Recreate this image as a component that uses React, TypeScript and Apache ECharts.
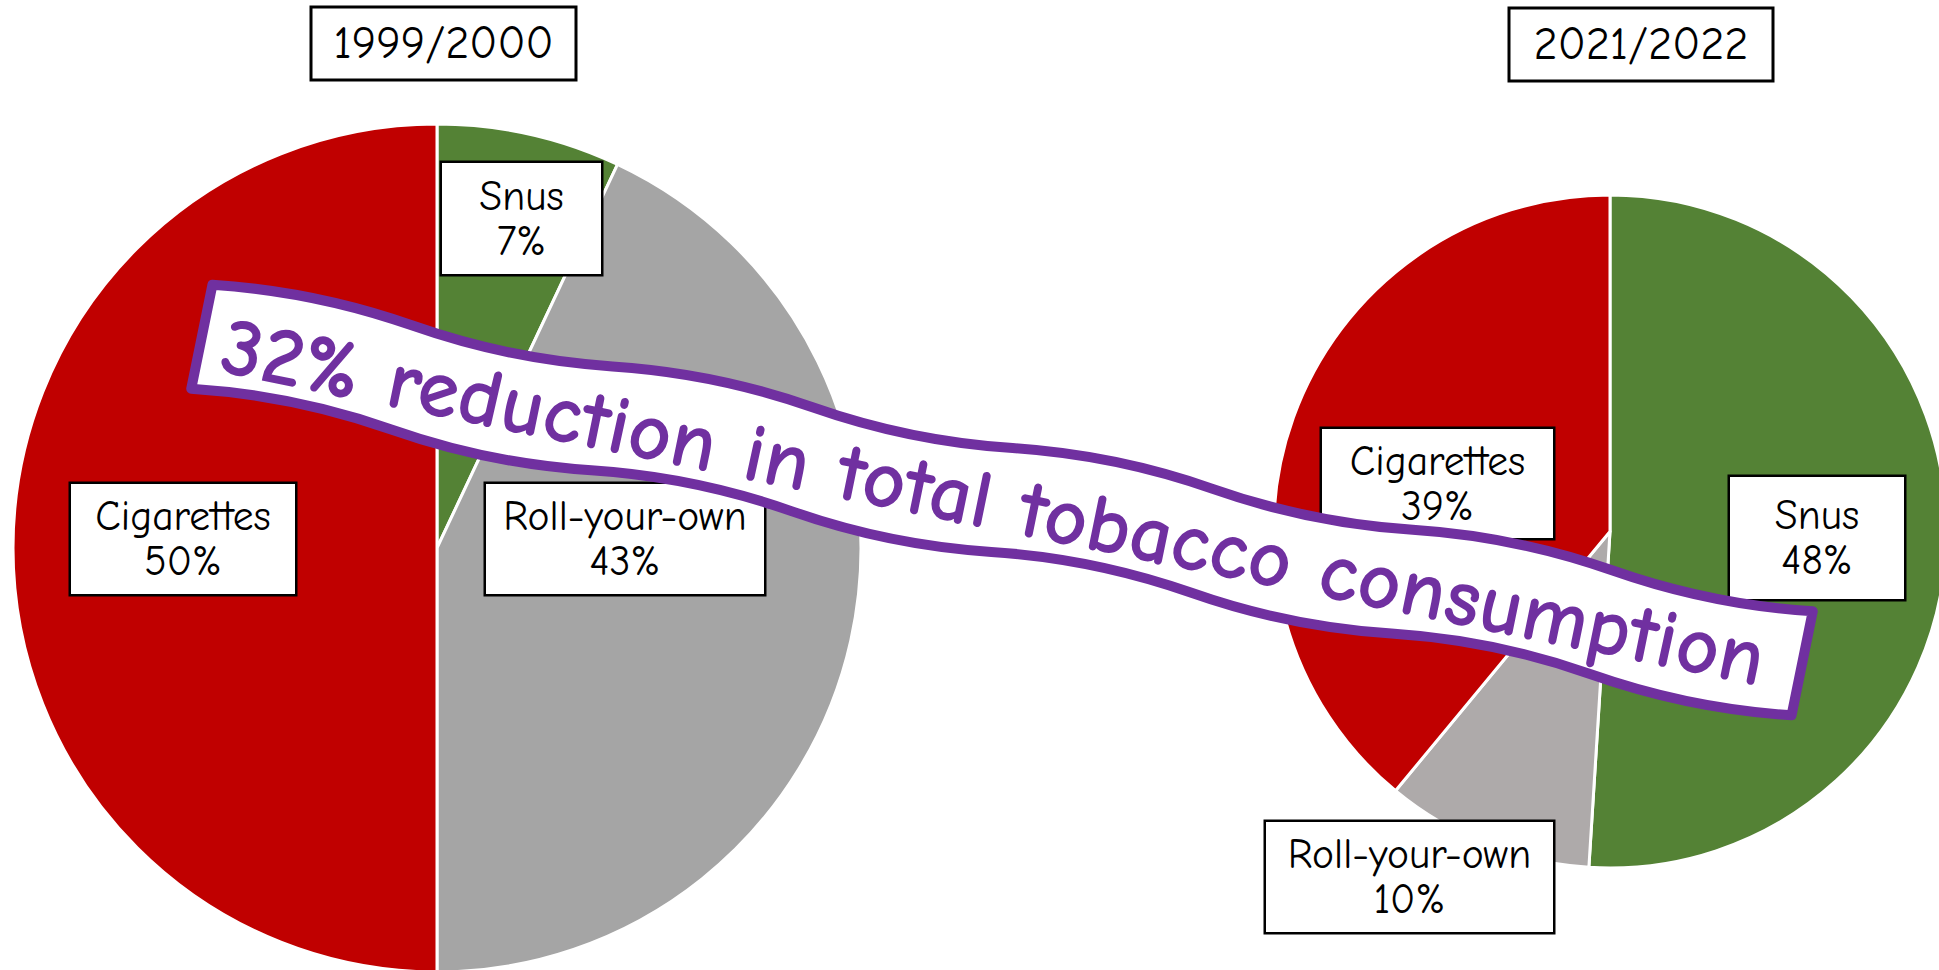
import React, { useEffect, useRef } from "react";
import * as echarts from "echarts";

// ---------- data ----------
const periods = ["1999/2000", "2021/2022"];
const categories2000 = ["Snus", "Roll-your-own", "Cigarettes"];
const shares2000 = [7, 43, 50]; // slice sizes as drawn
const printed2000 = [7, 43, 50]; // percentages printed on labels
const categories2022 = ["Snus", "Roll-your-own", "Cigarettes"];
const shares2022 = [51, 10, 39]; // slice sizes as drawn
const printed2022 = [48, 10, 39]; // percentages printed on labels
const bannerText = "32% reduction in total tobacco consumption";

// ---------- styles / layout ----------
const colors2000 = ["#548235", "#A5A5A5", "#C00000"];
const colors2022 = ["#548235", "#AEAAAA", "#C00000"];
const boxes2000 = [
  [521.5, 218.5, 159, 111],
  [625, 539, 278, 110],
  [183, 539, 224, 110],
];
const boxes2022 = [
  [1817, 538, 174, 122],
  [1409.5, 877, 287, 110],
  [1437.5, 483.5, 231, 109],
];
const titleBoxes = [
  [311, 7, 265, 73],
  [1509, 8, 264, 73],
];
const FAM = "'Comic Sans MS', 'Comic Neue', 'Open Sans', sans-serif";
const PURPLE = "#7030A0";

function fitFont(text: string, weight: string, target: number) {
  const c = document.createElement("canvas").getContext("2d");
  if (!c) return 36;
  c.font = `${weight} 100px ${FAM}`;
  const w = c.measureText(text).width || 1;
  return (100 * target) / w;
}

function ribbonPath(W: number, H: number, A: number, halves: number) {
  const s = W / halves;
  const x0 = -W / 2;
  const yt = -H / 2;
  const yb = H / 2;
  let d = `M ${x0} ${yt}`;
  for (let i = 0; i < halves; i++) {
    const sign = i % 2 === 0 ? -1 : 1;
    const xa = x0 + i * s;
    const k = (sign * A * 4) / 3;
    d += ` C ${xa + s / 3} ${yt + k} ${xa + (2 * s) / 3} ${yt + k} ${xa + s} ${yt}`;
  }
  d += ` L ${W / 2} ${yb}`;
  for (let i = halves - 1; i >= 0; i--) {
    const sign = i % 2 === 0 ? -1 : 1;
    const xa = x0 + i * s;
    const k = (sign * A * 4) / 3;
    d += ` C ${xa + (2 * s) / 3} ${yb + k} ${xa + s / 3} ${yb + k} ${xa} ${yb}`;
  }
  d += " Z";
  return d;
}

let registered = false;
function registerRibbon() {
  if (registered) return;
  registered = true;
  echarts.graphic.registerShape(
    "ribbon",
    echarts.graphic.extendPath(ribbonPath(1633, 106, 7, 8), {}) as any
  );
}

function pieSeries(
  name: string,
  cats: string[],
  shares: number[],
  printed: number[],
  colors: string[],
  boxes: number[][],
  center: number[],
  radius: number,
  labelFont: number
) {
  const lh = 45;
  return {
    type: "pie",
    name,
    center,
    radius: [0, radius],
    startAngle: 90,
    clockwise: true,
    silent: true,
    avoidLabelOverlap: false,
    itemStyle: { borderColor: "#ffffff", borderWidth: 3 },
    label: {
      show: true,
      position: "inside",
      formatter: (p: any) => `${p.name}\n${printed[p.dataIndex]}%`,
      color: "#000",
      fontFamily: FAM,
      fontSize: labelFont,
      lineHeight: lh,
      backgroundColor: "#ffffff",
      borderColor: "#000",
      borderWidth: 2.5,
      overflow: "none",
      align: "center",
    },
    labelLine: { show: false },
    labelLayout: (p: any) => ({
      x: boxes[p.dataIndex][0],
      y: boxes[p.dataIndex][1],
    }),
    data: cats.map((c, i) => ({
      name: c,
      value: shares[i],
      itemStyle: { color: colors[i] },
      label: {
        width: boxes[i][2],
        padding: [(boxes[i][3] - 2 * lh) / 2, 0, (boxes[i][3] - 2 * lh) / 2, 0],
      },
    })),
  };
}

export default function App() {
  const ref = useRef<HTMLDivElement>(null);
  useEffect(() => {
    if (!ref.current) return;
    registerRibbon();
    const chart = echarts.init(ref.current, null, { renderer: "svg" });
    const labelFont = fitFont("CigarettesRoll-your-own", "normal", 419);
    const titleFont = fitFont("1999/2000", "normal", 220);
    const bannerFont = fitFont(bannerText, "bold", 1573);

    const titleEls: any[] = [];
    periods.forEach((t, i) => {
      const [x, y, w, h] = titleBoxes[i];
      titleEls.push({
        type: "rect",
        shape: { x, y, width: w, height: h },
        style: { fill: "#fff", stroke: "#000", lineWidth: 3 },
        z: 10,
      });
      titleEls.push({
        type: "text",
        x: x + w / 2,
        y: y + h / 2,
        style: {
          text: t,
          align: "center",
          verticalAlign: "middle",
          fontFamily: FAM,
          fontSize: titleFont,
          fill: "#000",
        },
        z: 11,
      });
    });

    const option: any = {
      animation: false,
      backgroundColor: "#ffffff",
      series: [
        pieSeries(periods[0], categories2000, shares2000, printed2000, colors2000, boxes2000, [437, 548], 424, labelFont),
        pieSeries(periods[1], categories2022, shares2022, printed2022, colors2022, boxes2022, [1610, 531.5], 336.5, labelFont),
      ],
      graphic: {
        elements: [
          ...titleEls,
          {
            type: "group",
            x: 1002,
            y: 500,
            rotation: -0.2016,
            z: 100,
            children: [
              {
                type: "ribbon",
                x: 0,
                y: 0,
                z: 100,
                style: {
                  fill: "#ffffff",
                  stroke: PURPLE,
                  lineWidth: 10,
                  lineJoin: "round",
                },
              },
              {
                type: "text",
                x: -8,
                y: 4,
                z: 101,
                style: {
                  text: bannerText,
                  align: "center",
                  verticalAlign: "middle",
                  fontFamily: FAM,
                  fontWeight: "bold",
                  fontSize: bannerFont,
                  fill: PURPLE,
                },
              },
            ],
          },
        ],
      },
    };
    chart.setOption(option);
    return () => chart.dispose();
  }, []);
  return (
    <div
      ref={ref}
      style={{
        position: "absolute",
        left: 0,
        top: 0,
        width: 1939,
        height: 970,
        background: "#fff",
      }}
    />
  );
}
